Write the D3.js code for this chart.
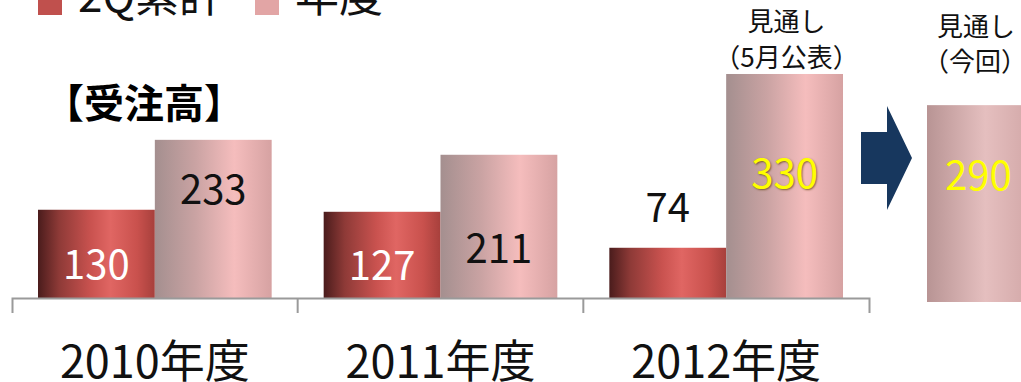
<!DOCTYPE html>
<html>
<head>
<meta charset="utf-8">
<script src="https://cdn.jsdelivr.net/npm/d3@7"></script>
<style>
  html, body { margin: 0; padding: 0; background: #fff; }
  svg { display: block; }
  text { font-family: "Noto Sans CJK JP", "Noto Sans", sans-serif; }
</style>
</head>
<body>
<svg id="chart" width="1021" height="382"></svg>
<script>
// 受注高: 2Q累計 and 年度 per fiscal year, plus the revised outlook
const years = ["2010年度", "2011年度", "2012年度"];
const seriesNames = ["2Q累計", "年度"];
const q2Cumulative = [130, 127, 74];
const fullYear = [233, 211, 330];
const revisedOutlook = 290;
const outlookHeaders = ["見通し", "（5月公表）"];
const revisedHeaders = ["見通し", "（今回）"];
const chartTitle = "【受注高】";

const svg = d3.select("#chart");
const defs = svg.append("defs");

// cylinder-like shading for each series
function hGradient(id, stops) {
  const g = defs.append("linearGradient").attr("id", id)
    .attr("x1", "0%").attr("x2", "100%").attr("y1", "0%").attr("y2", "0%");
  stops.forEach(([o, c]) => g.append("stop").attr("offset", o).attr("stop-color", c));
}
hGradient("gDark", [["0%", "#4a1c1c"], ["18%", "#8e3a37"], ["45%", "#c9524f"], ["62%", "#e06663"], ["85%", "#c9514d"], ["100%", "#a7403c"]]);
hGradient("gLight", [["0%", "#a48f8f"], ["35%", "#caa3a3"], ["68%", "#f5bdbd"], ["100%", "#d6a2a2"]]);
hGradient("gOutlook", [["0%", "#b89494"], ["50%", "#e5bfbf"], ["100%", "#cda1a1"]]);

const baseY = 298;
const y = d3.scaleLinear().domain([0, 439]).range([baseY, 0]);
const x = d3.scaleBand().domain(years).range([12, 869]).paddingInner(0).paddingOuter(0);
const xs = d3.scaleBand().domain(seriesNames).range([26, x.bandwidth() - 26]);

const rows = years.map((yr, i) => ({ year: yr, values: [q2Cumulative[i], fullYear[i]] }));

// legend (top strip)
const legend = svg.append("g");
const legendColors = ["#c0504d", "#e2a5a5"];
const legendX = [38, 255];
seriesNames.forEach((name, i) => {
  legend.append("rect").attr("x", legendX[i]).attr("y", -10).attr("width", 24).attr("height", 25)
    .attr("fill", legendColors[i]);
  legend.append("text").attr("x", legendX[i] + 40).attr("y", 12)
    .attr("font-size", 44).attr("fill", "#111").text(name);
});

// title
svg.append("text").attr("x", 44).attr("y", 118)
  .attr("font-size", 40).attr("font-weight", "bold").attr("fill", "#000").text(chartTitle);

// bars
const groups = svg.selectAll("g.year").data(rows).join("g")
  .attr("class", "year").attr("transform", d => `translate(${x(d.year)},0)`);

groups.selectAll("rect").data(d => d.values.map((v, k) => ({ v, k }))).join("rect")
  .attr("x", d => xs(seriesNames[d.k]))
  .attr("width", xs.bandwidth())
  .attr("y", d => y(d.v))
  .attr("height", d => y(0) - y(d.v))
  .attr("fill", d => d.k === 0 ? "url(#gDark)" : "url(#gLight)");

// value labels: baseline offsets measured from each bar top
const labelPlace = {
  "2010年度": [{ dy: 69, color: "#fff" }, { dy: 64, color: "#111" }],
  "2011年度": [{ dy: 68, color: "#fff" }, { dy: 108, color: "#111" }],
  "2012年度": [{ dy: -26, color: "#111" }, { dy: 114, color: "#ffff00", shadow: true }]
};
groups.each(function (d) {
  const g = d3.select(this);
  d.values.forEach((v, k) => {
    const p = labelPlace[d.year][k];
    g.append("text")
      .attr("x", xs(seriesNames[k]) + xs.bandwidth() / 2)
      .attr("y", y(v) + p.dy)
      .attr("text-anchor", "middle")
      .attr("font-size", 40)
      .attr("fill", p.color)
      .style("text-shadow", p.shadow ? "1px 1px 2px rgba(90,60,0,0.7)" : null)
      .text(v);
  });
});

// category axis with separators between years
const axis = d3.axisBottom(x).tickSize(0).tickSizeOuter(15).tickPadding(58);
const axG = svg.append("g").attr("transform", `translate(0,${baseY})`).call(axis);
axG.select(".domain").attr("stroke", "#9a9a9a").attr("stroke-width", 2).attr("fill", "none");
axG.selectAll(".tick text").attr("font-size", 45).attr("fill", "#111")
  .attr("font-family", "'Noto Sans CJK JP', sans-serif").attr("dy", "0");
axG.selectAll(".tick text").attr("y", 80);
axG.selectAll("line.sep").data(years.slice(1)).join("line").attr("class", "sep")
  .attr("x1", d => x(d)).attr("x2", d => x(d)).attr("y1", 0).attr("y2", 15)
  .attr("stroke", "#9a9a9a").attr("stroke-width", 2);

// header over the full-year 2012 bar
const lastYear = years[years.length - 1];
const outlookCx = x(lastYear) + xs(seriesNames[1]) + xs.bandwidth() / 2;
outlookHeaders.forEach((t, i) => {
  svg.append("text").attr("x", outlookCx + 2).attr("y", 31 + i * 36)
    .attr("text-anchor", "middle").attr("font-size", 26).attr("fill", "#111").text(t);
});

// revised outlook bar to the right of the axis
const bandEnd = x.range()[1];
const revX = bandEnd + 58;
svg.append("rect")
  .attr("x", revX).attr("width", xs.bandwidth())
  .attr("y", y(revisedOutlook) + 4).attr("height", y(0) - y(revisedOutlook))
  .attr("fill", "url(#gOutlook)");
svg.append("text").attr("x", revX + 18).attr("y", y(revisedOutlook) + 89)
  .attr("font-size", 40).attr("fill", "#ffff00").text(revisedOutlook);
revisedHeaders.forEach((t, i) => {
  svg.append("text").attr("x", revX + 10 - i * 14).attr("y", 36 + i * 35)
    .attr("font-size", 26).attr("fill", "#111").text(t);
});

// arrow from the old outlook to the revised one
const ax0 = bandEnd - 8, ax1 = bandEnd + 18, tip = revX - 15, cy = 158;
svg.append("path")
  .attr("d", d3.line()([[ax0, cy - 26], [ax1, cy - 26], [ax1, cy - 52], [tip, cy], [ax1, cy + 52], [ax1, cy + 26], [ax0, cy + 26]]) + "Z")
  .attr("fill", "#17375e");
</script>
</body>
</html>
